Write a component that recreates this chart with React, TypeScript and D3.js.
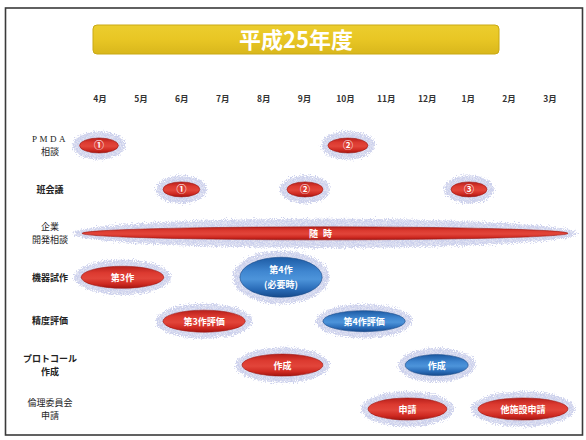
import React from 'react';
import * as d3 from 'd3';

const W = 586;
const H = 440;

const title = '平成25年度';
const months = ['4月', '5月', '6月', '7月', '8月', '9月', '10月', '11月', '12月', '1月', '2月', '3月'];
const rowKeys = ['pmda', 'han', 'kigyo', 'kiki', 'seido', 'proto', 'rinri'];
const rowLabels = [['PMDA', '相談'], ['班会議'], ['企業', '開発相談'], ['機器試作'], ['精度評価'], ['プロトコール', '作成'], ['倫理委員会', '申請']];
const rowLabelBold = [false, true, false, true, true, true, false];

// events: row, start/end in month index (0 = 4月), label lines, colour
const evRow = ['pmda', 'pmda', 'han', 'han', 'han', 'kigyo', 'kiki', 'kiki', 'seido', 'seido', 'proto', 'proto', 'rinri', 'rinri'];
const evStart = [-0.5, 5.57, 1.54, 4.57, 8.58, -0.44, -0.46, 3.42, 1.54, 5.45, 3.47, 7.46, 6.55, 9.24];
const evEnd = [0.45, 6.55, 2.44, 5.45, 9.46, 11.44, 1.56, 5.43, 3.55, 7.46, 5.45, 9.0, 8.48, 11.44];
const evLabel = [['①'], ['②'], ['①'], ['②'], ['③'], ['随時'], ['第3作'], ['第4作', '(必要時)'], ['第3作評価'], ['第4作評価'], ['作成'], ['作成'], ['申請'], ['他施設申請']];
const evColor = ['red', 'red', 'red', 'red', 'red', 'red', 'red', 'blue', 'red', 'blue', 'red', 'blue', 'red', 'red'];

const FONT = '"Noto Sans CJK JP", "Noto Sans", sans-serif';

export default function App() {
  const x = d3.scaleLinear().domain([0, months.length - 1]).range([100, 550]);
  const y = d3.scalePoint<string>().domain(rowKeys).range([145.5, 409]);

  const events = evRow.map((r, i) => {
    const x0 = x(evStart[i]);
    const x1 = x(evEnd[i]);
    const lines = evLabel[i];
    let ry = 11;
    if (r === 'kigyo') ry = 6.5;
    else if (lines.length > 1) ry = 20;
    else if (/^[①②③]$/.test(lines[0])) ry = 7.5;
    else if (evColor[i] === 'blue') ry = 10.5;
    return { cx: (x0 + x1) / 2, cy: y(r) as number, rx: (x1 - x0) / 2, ry, lines, color: evColor[i], bar: r === 'kigyo' };
  });

  return (
    <svg width={W} height={H} style={{ position: 'absolute', left: 0, top: 0, background: '#fff' }} fontFamily={FONT}>
      <defs>
        <linearGradient id="gRed" x1="0" y1="0" x2="0" y2="1">
          <stop offset="0%" stopColor="#b71f1a" />
          <stop offset="30%" stopColor="#dc3a30" />
          <stop offset="55%" stopColor="#e2453a" />
          <stop offset="80%" stopColor="#cf2a22" />
          <stop offset="100%" stopColor="#a31510" />
        </linearGradient>
        <linearGradient id="gBlue" x1="0" y1="0" x2="0" y2="1">
          <stop offset="0%" stopColor="#1c5aa3" />
          <stop offset="35%" stopColor="#3f86d0" />
          <stop offset="55%" stopColor="#4d94da" />
          <stop offset="80%" stopColor="#2a6cb8" />
          <stop offset="100%" stopColor="#164a8c" />
        </linearGradient>
        <linearGradient id="gYellow" x1="0" y1="0" x2="0" y2="1">
          <stop offset="0%" stopColor="#eccd2e" />
          <stop offset="50%" stopColor="#e8c624" />
          <stop offset="100%" stopColor="#d9b71c" />
        </linearGradient>
        <filter id="fuzz" x="-30%" y="-80%" width="160%" height="260%">
          <feTurbulence type="fractalNoise" baseFrequency="0.9" numOctaves="2" seed="4" result="n" />
          <feDisplacementMap in="SourceGraphic" in2="n" scale="8" xChannelSelector="R" yChannelSelector="G" result="d" />
          <feTurbulence type="fractalNoise" baseFrequency="1.6" numOctaves="1" seed="9" result="s" />
          <feColorMatrix in="s" type="matrix" values="0 0 0 0 0.6  0 0 0 0 0.63  0 0 0 0 0.84  0 0 0 -4 2.6" result="sc" />
          <feComposite in="sc" in2="d" operator="in" result="sp" />
          <feMerge>
            <feMergeNode in="d" />
            <feMergeNode in="sp" />
          </feMerge>
        </filter>
      </defs>

      {/* frame */}
      <rect x={5.5} y={8} width={577} height={427} fill="none" stroke="#3a3a3a" strokeWidth={1.6} />

      {/* title */}
      <rect x={93} y={25} width={406} height={29} rx={4} fill="url(#gYellow)" stroke="#c9a915" strokeWidth={1} />
      <text x={296} y={47.5} textAnchor="middle" fontSize={22} fontWeight={700} fill="#fff">{title}</text>

      {/* month labels */}
      {months.map((m, i) => (
        <text key={m} x={x(i)} y={102} textAnchor="middle" fontSize={8.5} fontWeight={700} fill="#333">{m}</text>
      ))}

      {/* row labels */}
      {rowKeys.map((k, i) => {
        const lines = rowLabels[i];
        const cy = y(k) as number;
        const lh = 13.3;
        const top = cy - ((lines.length - 1) * lh) / 2 + 3.3;
        return (
          <g key={k}>
            {lines.map((l, j) => (
              <text key={j} x={50} y={top + j * lh} textAnchor="middle" fontSize={9}
                fontWeight={rowLabelBold[i] ? 700 : 400}
                letterSpacing={l === 'PMDA' ? 2.5 : 0}
                fontFamily={l === 'PMDA' ? '"Liberation Serif", serif' : FONT}
                fill="#222">{l}</text>
            ))}
          </g>
        );
      })}

      {/* halos */}
      {events.map((e, i) => (
        <ellipse key={'h' + i} cx={e.cx} cy={e.cy} rx={e.rx + (e.bar ? 9 : 7)} ry={e.ry + (e.bar ? 8 : 6.5)}
          fill="#e2e4f3" filter="url(#fuzz)" />
      ))}

      {/* ellipses */}
      {events.map((e, i) => {
        const lh = 15;
        const top = e.cy - ((e.lines.length - 1) * lh) / 2 + 3.5;
        return (
          <g key={'e' + i}>
            <ellipse cx={e.cx} cy={e.cy} rx={e.rx} ry={e.ry}
              fill={e.color === 'red' ? 'url(#gRed)' : 'url(#gBlue)'}
              stroke={e.color === 'red' ? '#9c1712' : '#154684'} strokeWidth={0.6} />
            {e.lines.map((l, j) => (
              <text key={j} x={e.bar ? 323 : e.cx} y={e.bar ? e.cy + 3.2 : top + j * lh} textAnchor="middle"
                fontSize={e.lines[0].length === 1 ? 10 : 9} fontWeight={700} fill="#fff"
                letterSpacing={e.bar ? 5 : 0}>{l}</text>
            ))}
          </g>
        );
      })}
    </svg>
  );
}
